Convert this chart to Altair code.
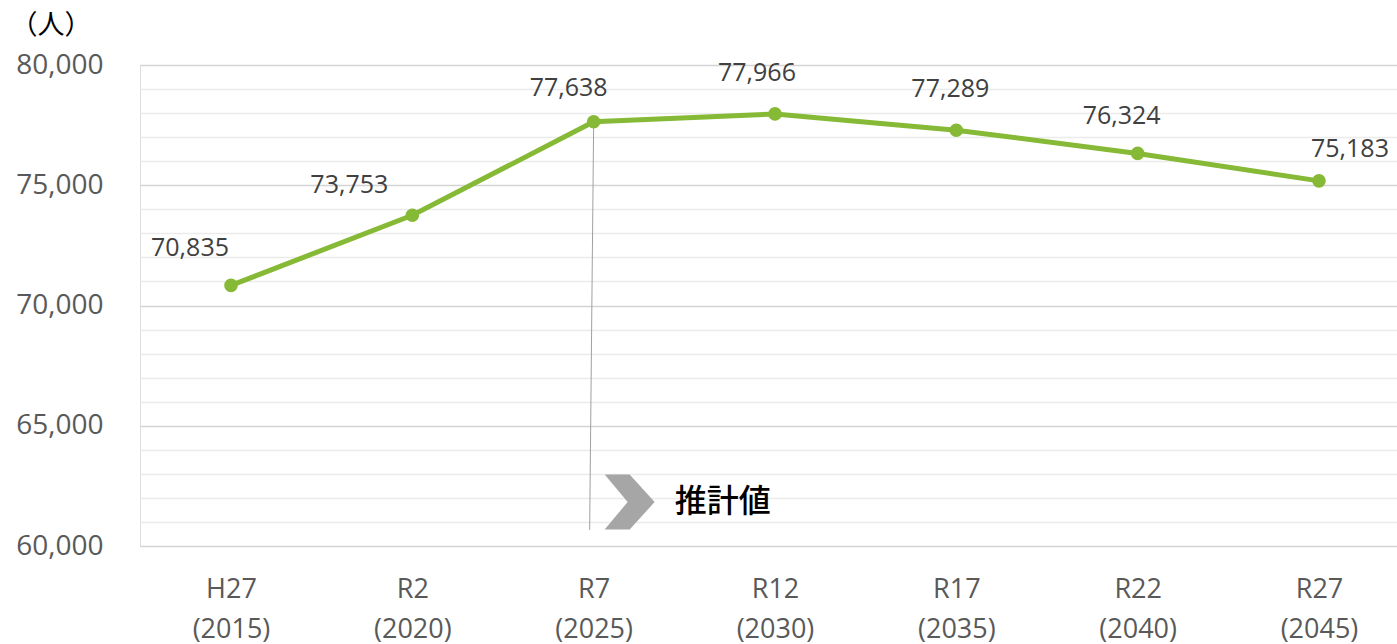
import json
import altair as alt
import pandas as pd

eras = ["H27", "R2", "R7", "R12", "R17", "R22", "R27"]
years = ["(2015)", "(2020)", "(2025)", "(2030)", "(2035)", "(2040)", "(2045)"]
population = [70835, 73753, 77638, 77966, 77289, 76324, 75183]

# label offsets (dx, dy) in pixels – styling only
label_offsets = [(-41, -37), (-63, -30), (-25, -34), (-18, -41), (-6, -41), (-16, -37), (31, -32)]

idx = list(range(len(eras)))
df = pd.DataFrame({"idx": idx, "pop": population})
tick_text = json.dumps([[e, y] for e, y in zip(eras, years)], ensure_ascii=False)

FONT = "Open Sans"
GREEN = "#86b935"

W, H = 1257, 481
STEP = 181.33
FIRST = 91
x_scale = alt.Scale(domain=[-FIRST / STEP, (W - FIRST) / STEP], nice=False, zero=False)
x_axis = alt.Axis(title=None, values=idx, labelExpr=f"{tick_text}[datum.value]", labelAngle=0,
                  labelFont=FONT, labelFontSize=27, labelColor="#595959",
                  labelLineHeight=40, labelPadding=30, ticks=False, domain=False,
                  grid=False, labelOverlap=False, labelFlush=False)
y_scale = alt.Scale(domain=[60000, 80000], nice=False, zero=False)
y_axis = alt.Axis(title="（人）", titleAngle=0, titleAlign="left", titleBaseline="middle",
                  titleX=-130, titleY=-40, titleFont="Noto Sans CJK JP",
                  titleFontSize=27, titleFontWeight="normal", titleColor="#000000",
                  values=list(range(60000, 80001, 1000)), tickCount=21,
                  labelExpr="datum.value % 5000 === 0 ? format(datum.value, ',') : ''",
                  labelFont=FONT, labelFontSize=28, labelColor="#595959",
                  labelPadding=37, ticks=False, domain=False, labelOverlap=False,
                  gridColor={"expr": "datum.value % 5000 === 0 ? '#d4d4d4' : '#ebebeb'"},
                  gridWidth=1.5)


def X(field="idx"):
    return alt.X(f"{field}:Q", scale=x_scale, axis=x_axis)


def Y(field):
    return alt.Y(f"{field}:Q", scale=y_scale, axis=y_axis)


base = alt.Chart(df)

line = base.mark_line(color=GREEN, strokeWidth=5).encode(x=X(), y=Y("pop"))
points = base.mark_circle(color=GREEN, size=185, opacity=1).encode(x=X(), y=Y("pop"))

labels = []
for i, (dx, dy) in enumerate(label_offsets):
    sub = df.iloc[[i]]
    labels.append(
        alt.Chart(sub).mark_text(font=FONT, fontSize=25, color="#404040", dx=dx, dy=dy)
        .encode(x=X(), y=Y("pop"), text=alt.Text("pop:Q", format=","))
    )

ann = pd.DataFrame({"idx": [2], "top": [population[2]], "bottom": [60670], "mid": [61830],
                    "txt": ["推計値"]})
vline = alt.Chart(ann).mark_rule(color="#a0a0a0", strokeWidth=1, x2Offset=-4).encode(
    x=X(), x2="idx:Q", y=Y("top"), y2="bottom:Q")
chevron = alt.Chart(ann).mark_point(
    shape="M-1,-1.1 L0,-1.1 L1,0 L0,1.1 L-1,1.1 L-0.08,0 Z",
    filled=True, color="#a6a6a6", opacity=1, size=2500, xOffset=36, strokeWidth=0
).encode(x=X(), y=Y("mid"))
ann_text = alt.Chart(ann).mark_text(font="Noto Sans CJK JP", fontSize=32, color="#000000",
                                    align="left", baseline="middle", dx=81, fontWeight=500).encode(
    x=X(), y=Y("mid"), text="txt:N")

chart = alt.layer(line, vline, points, chevron, ann_text, *labels).properties(
    width=W, height=H,
    padding={"left": 140, "top": 65, "right": 0, "bottom": 98},
    autosize=alt.AutoSizeParams(type="none"),
).configure_view(stroke=None).configure(background="white")

chart.save("out.html", embed_options={"renderer": "svg", "actions": False})
